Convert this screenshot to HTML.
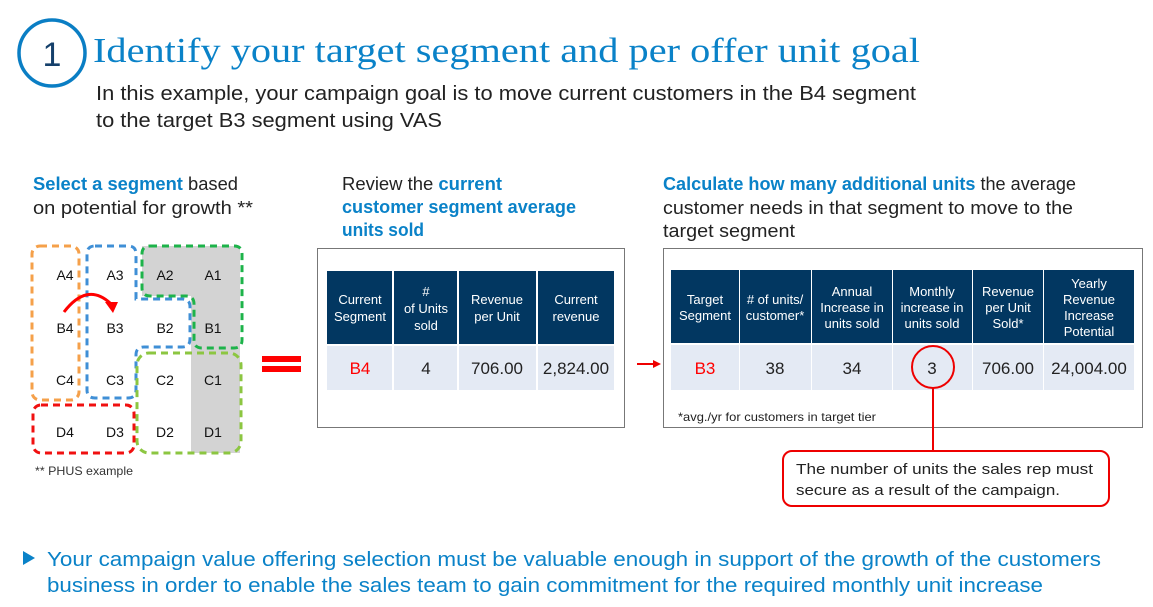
<!DOCTYPE html>
<html><head><meta charset="utf-8"><style>
html,body{margin:0;padding:0;background:#fff}
svg{display:block}
text{font-family:"Liberation Sans",sans-serif}
</style></head><body>
<svg width="1153" height="607" viewBox="0 0 1153 607" xmlns="http://www.w3.org/2000/svg">
<!-- header -->
<circle cx="52" cy="53" r="33" fill="none" stroke="#0a7ec4" stroke-width="3.5"/>
<text x="52" y="66" font-size="34" fill="#15406b" text-anchor="middle">1</text>
<text x="93" y="62" font-family="Liberation Serif" style="font-family:'Liberation Serif',serif" font-size="35" fill="#0a82c8" textLength="827" lengthAdjust="spacingAndGlyphs">Identify your target segment and per offer unit goal</text>
<text x="96" y="100" font-size="20" fill="#222" textLength="820" lengthAdjust="spacingAndGlyphs">In this example, your campaign goal is to move current customers in the B4 segment</text>
<text x="96" y="127" font-size="20" fill="#222" textLength="346" lengthAdjust="spacingAndGlyphs">to the target B3 segment using VAS</text>

<!-- section headings -->
<text x="33" y="190" font-size="18" fill="#222" textLength="205" lengthAdjust="spacingAndGlyphs"><tspan fill="#0a82c8" font-weight="bold">Select a segment</tspan> based</text>
<text x="33" y="214" font-size="18" fill="#222" textLength="220" lengthAdjust="spacingAndGlyphs">on potential for growth **</text>
<text x="342" y="190" font-size="18" fill="#222" textLength="160" lengthAdjust="spacingAndGlyphs">Review the <tspan fill="#0a82c8" font-weight="bold">current</tspan></text>
<text x="342" y="213" font-size="18" fill="#0a82c8" font-weight="bold" textLength="234" lengthAdjust="spacingAndGlyphs">customer segment average</text>
<text x="342" y="236" font-size="18" fill="#0a82c8" font-weight="bold" textLength="82" lengthAdjust="spacingAndGlyphs">units sold</text>
<text x="663" y="190" font-size="18" fill="#222" textLength="413" lengthAdjust="spacingAndGlyphs"><tspan fill="#0a82c8" font-weight="bold">Calculate how many additional units</tspan> the average</text>
<text x="663" y="214" font-size="18" fill="#222" textLength="410" lengthAdjust="spacingAndGlyphs">customer needs in that segment to move to the</text>
<text x="663" y="237" font-size="18" fill="#222" textLength="132" lengthAdjust="spacingAndGlyphs">target segment</text>

<!-- segment grid -->
<path d="M142 246 H240 V453 H191 V296 H142 Z" fill="#d3d3d3"/>
<g fill="none" stroke-width="3" stroke-dasharray="7,5">
<rect x="32" y="246" width="47" height="154" rx="8" stroke="#f5a04a"/>
<path d="M95 246 H128 Q136 246 136 254 V299 H182 Q190 299 190 307 V339 Q190 347 182 347 H144 Q136 347 136 355 V390 Q136 398 128 398 H95 Q87 398 87 390 V254 Q87 246 95 246 Z" stroke="#3f8fd6"/>
<path d="M150 246 H234 Q242 246 242 254 V340 Q242 348 234 348 H202 Q194 348 194 340 V304 Q194 296 186 296 H150 Q142 296 142 288 V254 Q142 246 150 246 Z" stroke="#1db34a"/>
<rect x="137" y="353" width="104" height="100" rx="12" stroke="#8cc641"/>
<rect x="33" y="405" width="101" height="48" rx="8" stroke="#f01010"/>
</g>
<g font-size="14" fill="#111" text-anchor="middle">
<text x="65" y="280">A4</text><text x="115" y="280">A3</text><text x="165" y="280">A2</text><text x="213" y="280">A1</text>
<text x="65" y="333">B4</text><text x="115" y="333">B3</text><text x="165" y="333">B2</text><text x="213" y="333">B1</text>
<text x="65" y="385">C4</text><text x="115" y="385">C3</text><text x="165" y="385">C2</text><text x="213" y="385">C1</text>
<text x="65" y="437">D4</text><text x="115" y="437">D3</text><text x="165" y="437">D2</text><text x="213" y="437">D1</text>
</g>
<path d="M64 312 Q87 282 110 303" fill="none" stroke="#f00" stroke-width="3"/>
<path d="M105 302 L118 302 L113 313 Z" fill="#f00"/>
<text x="35" y="475" font-size="12" fill="#333" textLength="98" lengthAdjust="spacingAndGlyphs">** PHUS example</text>

<!-- equals -->
<rect x="262" y="356" width="39" height="6" fill="#f00"/>
<rect x="262" y="366" width="39" height="6" fill="#f00"/>

<!-- left table -->
<rect x="317.5" y="248.5" width="307" height="179" fill="#fff" stroke="#777"/>
<g fill="#023761">
<rect x="327" y="271" width="65" height="73"/><rect x="394" y="271" width="63" height="73"/><rect x="459" y="271" width="77" height="73"/><rect x="538" y="271" width="76" height="73"/>
</g>
<g fill="#e4eaf4">
<rect x="327" y="346" width="65" height="44"/><rect x="394" y="346" width="63" height="44"/><rect x="459" y="346" width="77" height="44"/><rect x="538" y="346" width="76" height="44"/>
</g>
<g font-size="13" fill="#fff" text-anchor="middle">
<text x="360" y="304">Current</text><text x="360" y="321">Segment</text>
<text x="426" y="296">#</text><text x="426" y="313">of Units</text><text x="426" y="330">sold</text>
<text x="497" y="304">Revenue</text><text x="497" y="321">per Unit</text>
<text x="576" y="304">Current</text><text x="576" y="321">revenue</text>
</g>
<g font-size="17" fill="#222" text-anchor="middle">
<text x="360" y="374" fill="#f00">B4</text><text x="426" y="374">4</text><text x="497" y="374">706.00</text><text x="576" y="374">2,824.00</text>
</g>

<!-- arrow -->
<line x1="637" y1="364" x2="655" y2="364" stroke="#e00" stroke-width="2"/>
<path d="M653 360 L661 364 L653 368 Z" fill="#e00"/>

<!-- right table -->
<rect x="663.5" y="248.5" width="479" height="179" fill="#fff" stroke="#777"/>
<g fill="#023761">
<rect x="671" y="270" width="68" height="73"/><rect x="740" y="270" width="71" height="73"/><rect x="812" y="270" width="80" height="73"/><rect x="893" y="270" width="79" height="73"/><rect x="973" y="270" width="70" height="73"/><rect x="1044" y="270" width="90" height="73"/>
</g>
<g fill="#e4eaf4">
<rect x="671" y="345" width="68" height="45"/><rect x="740" y="345" width="71" height="45"/><rect x="812" y="345" width="80" height="45"/><rect x="893" y="345" width="79" height="45"/><rect x="973" y="345" width="70" height="45"/><rect x="1044" y="345" width="90" height="45"/>
</g>
<g font-size="13" fill="#fff" text-anchor="middle">
<text x="705" y="304">Target</text><text x="705" y="320">Segment</text>
<text x="775" y="304">#&#160;of units/</text><text x="775" y="320">customer*</text>
<text x="852" y="296">Annual</text><text x="852" y="312">Increase in</text><text x="852" y="328">units sold</text>
<text x="932" y="296">Monthly</text><text x="932" y="312">increase in</text><text x="932" y="328">units sold</text>
<text x="1008" y="296">Revenue</text><text x="1008" y="312">per Unit</text><text x="1008" y="328">Sold*</text>
<text x="1089" y="288">Yearly</text><text x="1089" y="304">Revenue</text><text x="1089" y="320">Increase</text><text x="1089" y="336">Potential</text>
</g>
<g font-size="17" fill="#222" text-anchor="middle">
<text x="705" y="374" fill="#f00">B3</text><text x="775" y="374">38</text><text x="852" y="374">34</text><text x="932" y="374">3</text><text x="1008" y="374">706.00</text><text x="1089" y="374">24,004.00</text>
</g>
<text x="678" y="421" font-size="12" fill="#222" textLength="198" lengthAdjust="spacingAndGlyphs">*avg./yr for customers in target tier</text>
<circle cx="933" cy="367" r="21" fill="none" stroke="#e00" stroke-width="2"/>
<line x1="933" y1="388" x2="933" y2="453" stroke="#e00" stroke-width="2"/>
<rect x="783" y="451" width="326" height="55" rx="9" fill="#fff" stroke="#e00" stroke-width="2"/>
<text x="796" y="474" font-size="15" fill="#222" textLength="297" lengthAdjust="spacingAndGlyphs">The number of units the sales rep must</text>
<text x="796" y="495" font-size="15" fill="#222" textLength="264" lengthAdjust="spacingAndGlyphs">secure as a result of the campaign.</text>

<!-- bottom -->
<path d="M23 551 L35 558 L23 565 Z" fill="#0a82c8"/>
<text x="47" y="566" font-size="20" fill="#0a82c8" textLength="1054" lengthAdjust="spacingAndGlyphs">Your campaign value offering selection must be valuable enough in support of the growth of the customers</text>
<text x="47" y="592" font-size="20" fill="#0a82c8" textLength="996" lengthAdjust="spacingAndGlyphs">business in order to enable the sales team to gain commitment for the required monthly unit increase</text>
</svg>
</body></html>
